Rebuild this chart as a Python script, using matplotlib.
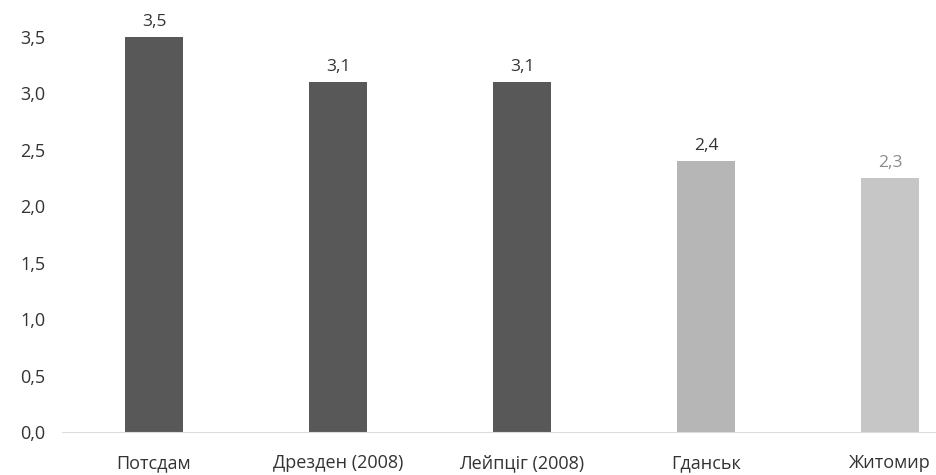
import matplotlib.pyplot as plt

plt.rcParams['font.family'] = ['Open Sans', 'DejaVu Sans']

cities = ['Потсдам', 'Дрезден (2008)', 'Лейпціг (2008)', 'Гданськ', 'Житомир']
values = [3.5, 3.1, 3.1, 2.4, 2.25]
value_labels = ['3,5', '3,1', '3,1', '2,4', '2,3']
bar_colors = ['#585858', '#585858', '#585858', '#b6b6b6', '#c6c6c6']
label_colors = ['#333333', '#333333', '#333333', '#333333', '#8a8a8a']
yticks = [0, 0.5, 1.0, 1.5, 2.0, 2.5, 3.0, 3.5]

fig = plt.figure(figsize=(9.36, 4.75), dpi=100)
ax = fig.add_axes([62/936, 43/475, 1 - 62/936, 395/475])

x = range(len(cities))
ax.bar(x, values, width=0.315, color=bar_colors)

for i, v in enumerate(values):
    ax.text(i, v + 0.06, value_labels[i], ha='center', va='bottom',
            fontsize=12.5, color=label_colors[i], clip_on=False)

ax.set_xlim(-0.5, 4.25)
ax.set_ylim(0, 3.5)
ax.set_yticks(yticks)
ax.set_yticklabels([f'{t:.1f}'.replace('.', ',') for t in yticks])
ax.set_xticks(list(x))
ax.set_xticklabels(cities)
ax.tick_params(axis='both', length=0, labelsize=13, colors='#333333')
ax.tick_params(axis='x', pad=16)
ax.tick_params(axis='y', pad=12)

for s in ['top', 'right', 'left']:
    ax.spines[s].set_visible(False)
ax.spines['bottom'].set_color('#dddddd')

fig.savefig('out.png', dpi=100)
